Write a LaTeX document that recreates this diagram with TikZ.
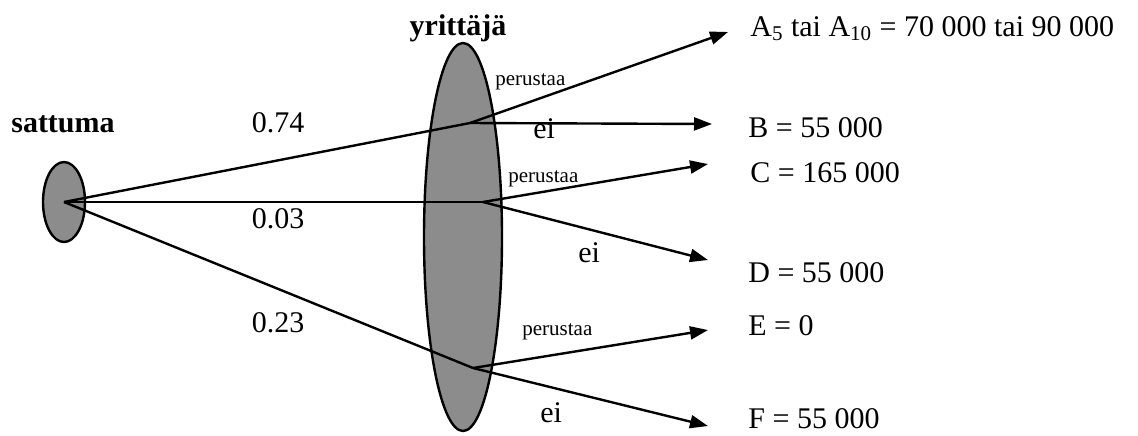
\documentclass[tikz,border=0pt]{standalone}
\usepackage{fontspec}
\setmainfont{Liberation Serif}
\usetikzlibrary{shapes.geometric,arrows.meta,positioning}
\definecolor{shade}{RGB}{140,140,140}

\begin{document}
\begin{tikzpicture}[x=0.5pt,y=-0.5pt,
  every node/.style={font=\fontsize{15}{17}\selectfont,inner sep=0pt},
  blob/.style={draw,ellipse,fill=shade,line width=1.2pt},
  branch/.style={line width=1.2pt},
  arr/.style={branch,-{Triangle[length=9pt,width=6.5pt]}},
  lab/.style={font=\fontsize{10.5}{12}\selectfont,anchor=base west}]
\useasboundingbox (0,0) rectangle (1138,435);
% chance and decision nodes
\node[blob,minimum width=21pt,minimum height=40pt] (sat) at (64,202) {};
\node[blob,minimum width=39pt,minimum height=194pt] (yri) at (463,237) {};
\node[anchor=base,font=\fontsize{15}{17}\selectfont\bfseries] (satl) at (63,132) {sattuma};
\node[anchor=base,font=\fontsize{15}{17}\selectfont\bfseries] (yril) at (458,35) {yrittäjä};
\coordinate (j1) at (470,123);
\coordinate (j2) at (483,202);
\coordinate (j3) at (473,368);
% outcomes
\node[anchor=base west] (oA) at (750,36) {A\textsubscript{5} tai A\textsubscript{10} = 70 000 tai 90 000};
\node[anchor=base west] (oB) at (748,137) {B = 55 000};
\node[anchor=base west] (oC) at (750,182) {C = 165 000};
\node[anchor=base west] (oD) at (748,282) {D = 55 000};
\node[anchor=base west] (oE) at (748,335) {E = 0};
\node[anchor=base west] (oF) at (748,428) {F = 55 000};
\coordinate (tA) at (728,32);
\coordinate (tB) at (712,124);
\coordinate (tC) at (708,164);
\coordinate (tD) at (708,260);
\coordinate (tE) at (708,330);
\coordinate (tF) at (708,426);
% branches
\foreach \j in {j1,j2,j3}
  \draw[branch] (sat.center) -- (\j);
\foreach \j/\t in {j1/tA,j1/tB,j2/tC,j2/tD,j3/tE,j3/tF}
  \draw[arr] (\j) -- (\t);
% probabilities and choices
\node[anchor=base] (p1) at (278,132) {0.74};
\node[anchor=base] (p2) at (278,228) {0.03};
\node[anchor=base] (p3) at (278,332) {0.23};
\node[lab] (c1) at (495,85) {perustaa};
\node[lab] (c2) at (508,182) {perustaa};
\node[lab] (c3) at (522,335) {perustaa};
\node[anchor=base west] (e1) at (533,138) {ei};
\node[anchor=base west] (e2) at (578,262) {ei};
\node[anchor=base west] (e3) at (540,422) {ei};
\end{tikzpicture}
\end{document}
